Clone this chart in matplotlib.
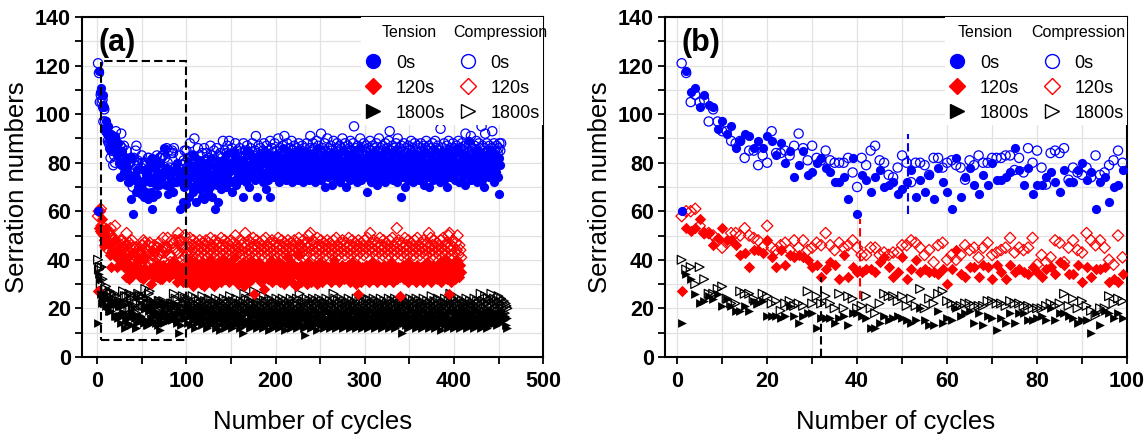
import numpy as np
import matplotlib
matplotlib.use('Agg')
import matplotlib.pyplot as plt
from matplotlib.patches import Rectangle
from matplotlib.lines import Line2D

plt.rcParams['font.family'] = ['Liberation Sans', 'DejaVu Sans']

# ---- first 100 cycles (panel b, also start of panel a) ----
t0_b = [60, 118, 109, 111, 103, 108, 104, 103, 94, 97,
        92, 95, 86, 89, 92, 91, 86, 89, 86, 91,
        89, 83, 88, 80, 85, 74, 79, 85, 75, 76,
        80, 82, 78, 76, 72, 72, 74, 65, 82, 59,
        75, 73, 68, 74, 77, 70, 71, 72, 67, 69,
        72, 77, 66, 73, 68, 75, 65, 78, 72, 68,
        61, 82, 66, 74, 78, 71, 67, 75, 71, 80,
        73, 73, 74, 76, 86, 77, 71, 78, 67, 71,
        71, 74, 76, 72, 68, 77, 72, 72, 77, 80,
        73, 76, 61, 72, 74, 64, 70, 71, 77]
c0_b = [121, 117, 105, 108, 105, 106, 97, 102, 97, 93,
        93, 89, 88, 89, 82, 85, 85, 79, 83, 80,
        93, 84, 84, 85, 83, 87, 92, 86, 81, 87,
        82, 81, 85, 81, 80, 80, 80, 82, 76, 70,
        82, 79, 85, 87, 81, 80, 75, 74, 78, 83,
        80, 72, 80, 80, 79, 75, 82, 82, 78, 80,
        81, 79, 78, 73, 81, 79, 83, 80, 80, 82,
        82, 82, 83, 83, 77, 82, 76, 86, 80, 85,
        78, 71, 84, 85, 84, 86, 73, 78, 76, 75,
        78, 74, 83, 75, 76, 79, 81, 85, 80]
t120_b = [27, 53, 52, 53, 57, 51, 51, 46, 49, 53,
          48, 48, 46, 42, 43, 37, 44, 44, 43, 48,
          41, 37, 44, 38, 42, 41, 42, 41, 40, 37,
          38, 33, 36, 39, 38, 32, 42, 33, 37, 35,
          35, 36, 36, 35, 39, 41, 37, 33, 35, 41,
          32, 36, 40, 35, 36, 35, 35, 34, 36, 30,
          36, 44, 34, 33, 37, 37, 33, 38, 37, 32,
          38, 35, 32, 38, 35, 36, 35, 34, 37, 35,
          33, 36, 37, 34, 39, 38, 34, 34, 38, 31,
          37, 33, 36, 36, 37, 31, 32, 31, 34]
c120_b = [58, 60, 60, 61, 54, 51, 51, 50, 48, 45,
          47, 51, 51, 50, 53, 50, 49, 48, 45, 54,
          45, 44, 46, 47, 44, 48, 45, 48, 44, 45,
          47, 46, 51, 46, 44, 47, 45, 46, 48, 45,
          42, 42, 45, 45, 42, 43, 42, 43, 43, 46,
          46, 48, 47, 45, 42, 44, 39, 46, 47, 40,
          42, 40, 42, 46, 44, 45, 41, 45, 47, 42,
          43, 44, 45, 49, 43, 45, 44, 45, 49, 38,
          42, 39, 41, 48, 47, 39, 45, 48, 44, 43,
          51, 48, 46, 48, 45, 40, 38, 50, 41]
t1800_b = [14, 34, 32, 26, 22, 23, 25, 24, 26, 21,
           24, 21, 19, 19, 21, 19, 23, 22, 23, 17,
           17, 17, 16, 17, 21, 17, 14, 17, 18, 18,
           12, 16, 16, 16, 14, 16, 17, 13, 18, 18,
           17, 16, 12, 12, 14, 17, 15, 16, 17, 16,
           15, 14, 15, 20, 15, 13, 13, 19, 14, 16,
           15, 20, 17, 18, 19, 14, 18, 13, 17, 16,
           11, 16, 14, 18, 14, 18, 18, 15, 15, 16,
           17, 15, 20, 15, 18, 18, 17, 16, 14, 15,
           15, 10, 18, 13, 19, 18, 16, 18, 16]
c1800_b = [40, 36, 37, 30, 37, 32, 26, 26, 28, 29,
           24, 22, 22, 27, 26, 26, 24, 22, 26, 25,
           22, 23, 19, 22, 23, 21, 22, 21, 27, 22,
           25, 22, 25, 22, 20, 26, 20, 25, 24, 20,
           21, 25, 20, 18, 22, 26, 25, 25, 23, 25,
           21, 24, 21, 28, 20, 24, 22, 26, 27, 23,
           22, 21, 21, 22, 22, 21, 21, 21, 23, 23,
           22, 22, 21, 23, 22, 22, 21, 21, 20, 20,
           20, 21, 22, 21, 22, 26, 21, 24, 20, 23,
           21, 19, 17, 20, 20, 25, 22, 24, 23]

# ---- cycles 100 onward (panel a only) ----
t0_a = [63, 72, 80, 66, 74, 78, 70, 83, 68, 75, 79, 64, 72, 77, 81, 69, 74, 66, 78, 71,
        65, 76, 80, 73, 68, 79, 74, 70, 82, 66, 75, 72, 61, 78, 71, 80, 64, 73, 77, 69,
        75, 81, 72, 78, 70, 83, 74, 79, 76, 72, 80, 68, 77, 84, 73, 79, 71, 82, 75, 78,
        73, 80, 76, 66, 81, 74, 78, 72, 85, 77, 70, 79, 83, 75, 74, 81, 77, 73, 80, 66,
        78, 82, 74, 79, 76, 83, 72, 80, 75, 69, 84, 77, 73, 81, 66, 79, 76, 82, 74, 78,
        80, 75, 83, 77, 72, 81, 78, 74, 86, 79, 76, 82, 73, 80, 77, 84, 75, 79, 72, 81,
        78, 74, 83, 76, 80, 73, 85, 77, 79, 75, 82, 72, 80, 78, 74, 84, 76, 81, 73, 79,
        77, 83, 75, 80, 72, 78, 82, 74, 86, 76, 79, 73, 81, 77, 75, 83, 70, 80, 78, 74,
        82, 76, 79, 71, 84, 77, 80, 74, 78, 83, 75, 79, 72, 81, 77, 85, 74, 80, 76, 70,
        79, 83, 75, 78, 73, 81, 77, 84, 74, 80, 76, 72, 82, 78, 75, 86, 73, 79, 77, 81,
        74, 80, 68, 78, 83, 75, 79, 72, 81, 77, 84, 74, 80, 76, 71, 82, 78, 75, 83, 73,
        79, 76, 81, 72, 85, 77, 80, 74, 78, 82, 75, 79, 73, 84, 76, 80, 72, 78, 83, 75,
        79, 66, 81, 74, 77, 70, 82, 76, 80, 73, 78, 84, 75, 79, 72, 81, 77, 74, 83, 76,
        80, 73, 78, 82, 75, 79, 71, 84, 77, 80, 74, 78, 70, 83, 76, 81, 73, 79, 77, 85,
        74, 80, 76, 82, 72, 78, 84, 75, 79, 73, 81, 77, 70, 85, 76, 80, 74, 83, 78, 75,
        81, 73, 79, 86, 76, 80, 72, 84, 77, 81, 74, 79, 71, 83, 76, 80, 75, 89, 78, 73,
        82, 76, 80, 74, 85, 78, 72, 81, 77, 84, 75, 79, 73, 82, 70, 80, 76, 83, 78, 74,
        81, 77, 85, 75, 79, 72, 83, 76, 80, 74, 67, 82, 79]
c0_a = [85, 78, 82, 76, 88, 80, 74, 83, 79, 90, 77, 81, 75, 86, 79, 83, 72, 80, 84, 78,
        86, 81, 77, 84, 79, 82, 75, 87, 80, 83, 78, 85, 81, 76, 86, 80, 83, 79, 84, 77,
        82, 89, 80, 85, 78, 84, 87, 81, 89, 83, 79, 86, 82, 80, 84, 88, 81, 85, 79, 83,
        86, 80, 84, 82, 88, 79, 85, 83, 87, 81, 84, 80, 86, 82, 88, 83, 79, 85, 91, 82,
        84, 87, 81, 86, 83, 80, 85, 88, 82, 84, 87, 81, 85, 83, 89, 80, 86, 82, 84, 88,
        81, 85, 83, 90, 82, 86, 80, 84, 87, 83, 91, 85, 82, 88, 84, 81, 86, 83, 89, 85,
        82, 87, 84, 80, 86, 83, 88, 85, 81, 84, 87, 82, 86, 83, 80, 88, 84, 82, 86, 91,
        83, 85, 88, 81, 86, 84, 89, 82, 87, 85, 83, 92, 84, 86, 81, 88, 85, 83, 90, 84,
        86, 82, 87, 85, 83, 89, 84, 81, 86, 88, 83, 85, 87, 82, 86, 90, 84, 83, 88, 85,
        82, 87, 84, 86, 89, 83, 85, 88, 95, 84, 86, 82, 87, 85, 83, 90, 84, 86, 81, 88,
        85, 83, 87, 84, 86, 82, 89, 85, 83, 87, 84, 86, 81, 88, 85, 83, 90, 84, 86, 82,
        87, 85, 83, 88, 84, 86, 82, 89, 93, 85, 83, 87, 84, 86, 81, 88, 85, 90, 83, 86,
        84, 87, 82, 85, 88, 83, 86, 84, 81, 87, 85, 83, 89, 84, 86, 82, 88, 85, 83, 87,
        84, 86, 82, 88, 85, 83, 87, 84, 86, 89, 83, 85, 87, 82, 86, 84, 88, 85, 83, 89,
        86, 84, 87, 82, 85, 94, 83, 86, 84, 88, 85, 83, 87, 84, 89, 82, 86, 85, 83, 88,
        84, 86, 82, 87, 85, 89, 83, 86, 84, 88, 85, 83, 87, 92, 86, 84, 82, 88, 85, 91,
        83, 86, 84, 87, 82, 89, 85, 83, 88, 86, 84, 95, 87, 83, 86, 92, 84, 88, 85, 83,
        87, 84, 86, 93, 82, 88, 85, 83, 87, 84, 86, 88, 85, 88]
t120_a = [35, 31, 38, 34, 40, 32, 36, 29, 37, 33, 39, 35, 31, 38, 34, 36, 30, 37, 33, 39,
          29, 35, 32, 38, 34, 36, 31, 40, 33, 37, 35, 29, 38, 34, 32, 36, 39, 33, 35, 31,
          37, 34, 40, 32, 36, 38, 33, 35, 31, 39, 34, 36, 32, 37, 35, 41, 33, 36, 30, 38,
          34, 37, 32, 35, 39, 29, 36, 33, 38, 34, 31, 37, 35, 40, 32, 36, 26, 34, 38, 33,
          36, 32, 39, 35, 31, 37, 34, 28, 36, 33, 38, 35, 32, 37, 34, 40, 31, 36, 33, 38,
          35, 32, 37, 34, 39, 31, 36, 33, 38, 35, 30, 37, 34, 41, 32, 36, 33, 39, 35, 31,
          38, 34, 36, 29, 37, 42, 33, 35, 31, 38, 34, 36, 32, 37, 35, 30, 39, 33, 36, 34,
          31, 37, 35, 32, 38, 34, 36, 30, 37, 33, 39, 35, 31, 36, 34, 38, 32, 35, 33, 37,
          34, 36, 31, 38, 33, 35, 40, 32, 36, 34, 37, 31, 35, 33, 38, 34, 36, 32, 37, 35,
          33, 38, 34, 31, 36, 35, 39, 32, 37, 34, 30, 36, 26, 38, 33, 35, 31, 37, 34, 36,
          32, 38, 35, 33, 37, 31, 36, 34, 39, 32, 35, 37, 33, 36, 31, 38, 34, 35, 32, 37,
          36, 33, 38, 31, 35, 34, 37, 32, 36, 39, 33, 35, 31, 38, 34, 36, 32, 37, 35, 33,
          25, 36, 34, 38, 32, 37, 35, 33, 39, 31, 36, 34, 38, 32, 35, 37, 33, 36, 31, 38,
          34, 36, 32, 37, 35, 31, 38, 33, 36, 34, 39, 32, 35, 37, 31, 36, 34, 38, 33, 35,
          37, 32, 36, 34, 39, 31, 35, 38, 33, 36, 34, 40, 32, 37, 26, 35, 38, 31, 33, 36,
          39, 32, 37, 34, 40, 36, 33, 38, 35]
c120_a = [45, 42, 47, 44, 49, 43, 46, 41, 48, 45, 43, 47, 44, 46, 42, 48, 45, 43, 47, 44,
          46, 42, 48, 45, 43, 47, 44, 49, 42, 46, 45, 43, 48, 44, 46, 42, 47, 45, 43, 49,
          44, 46, 42, 48, 45, 43, 47, 44, 46, 42, 48, 45, 43, 47, 44, 50, 42, 46, 45, 43,
          48, 44, 46, 42, 47, 45, 51, 43, 46, 44, 48, 42, 47, 45, 43, 49, 44, 46, 42, 48,
          45, 43, 47, 44, 46, 42, 48, 45, 43, 49, 44, 46, 42, 47, 45, 43, 48, 44, 46, 42,
          47, 45, 43, 49, 44, 46, 42, 48, 45, 43, 47, 44, 46, 42, 48, 45, 43, 47, 44, 46,
          42, 48, 45, 43, 47, 44, 49, 42, 46, 45, 43, 48, 44, 46, 42, 47, 45, 50, 43, 51,
          46, 44, 48, 42, 47, 45, 43, 49, 44, 46, 42, 48, 45, 43, 47, 44, 46, 42, 48, 45,
          43, 47, 44, 46, 42, 48, 45, 43, 49, 44, 46, 42, 47, 45, 43, 48, 44, 46, 42, 47,
          45, 43, 49, 44, 46, 42, 48, 45, 43, 47, 44, 46, 42, 48, 45, 43, 47, 44, 46, 42,
          48, 45, 43, 49, 44, 46, 51, 47, 45, 43, 48, 44, 46, 42, 47, 45, 43, 49, 44, 46,
          42, 48, 45, 43, 47, 44, 46, 42, 48, 45, 43, 49, 44, 46, 42, 47, 53, 43, 48, 44,
          46, 42, 47, 45, 43, 49, 44, 46, 42, 48, 45, 43, 47, 44, 46, 42, 48, 45, 43, 49,
          44, 46, 42, 47, 45, 43, 48, 44, 46, 42, 47, 45, 51, 43, 49, 44, 46, 42, 48, 45,
          43, 47, 44, 46, 42, 48, 45, 43, 49, 44, 46, 42, 47, 45, 50, 51, 44, 46, 42, 48,
          45, 43, 47, 44, 50, 42, 46, 44, 41]
t1800_a = [16, 19, 14, 21, 17, 13, 18, 15, 20, 16, 12, 18, 14, 19, 17, 15, 21, 13, 16, 18,
           14, 19, 16, 12, 18, 15, 20, 13, 17, 15, 19, 14, 16, 12, 18, 15, 17, 13, 11, 16,
           19, 14, 17, 12, 18, 15, 20, 13, 16, 14, 18, 12, 17, 15, 19, 13, 16, 14, 18, 15,
           12, 17, 14, 10, 16, 19, 13, 15, 18, 14, 20, 12, 16, 15, 18, 13, 17, 14, 19, 12,
           16, 14, 18, 13, 15, 17, 12, 19, 14, 16, 13, 18, 15, 11, 17, 14, 16, 12, 18, 15,
           13, 17, 14, 19, 12, 16, 15, 18, 13, 17, 14, 11, 16, 19, 13, 15, 18, 12, 17, 14,
           16, 13, 18, 15, 12, 17, 14, 19, 13, 16, 15, 18, 12, 9, 17, 14, 16, 13, 18, 15,
           12, 17, 14, 19, 13, 16, 15, 11, 18, 14, 16, 13, 17, 15, 12, 18, 14, 16, 13, 19,
           15, 12, 17, 14, 16, 13, 18, 15, 12, 17, 14, 19, 13, 16, 15, 18, 12, 17, 14, 16,
           13, 18, 15, 12, 17, 14, 16, 13, 19, 15, 12, 17, 14, 16, 13, 18, 15, 12, 17, 14,
           16, 13, 18, 15, 12, 17, 14, 19, 13, 16, 15, 18, 12, 17, 14, 16, 13, 18, 15, 12,
           17, 14, 19, 13, 16, 15, 18, 12, 17, 14, 16, 13, 18, 15, 12, 17, 14, 19, 13, 16,
           15, 18, 10, 17, 14, 16, 13, 18, 15, 12, 17, 14, 19, 13, 16, 15, 18, 12, 17, 14,
           16, 13, 18, 15, 12, 17, 14, 19, 13, 16, 15, 18, 12, 17, 14, 16, 13, 18, 15, 12,
           17, 14, 19, 13, 16, 15, 11, 18, 14, 16, 13, 17, 15, 12, 18, 14, 16, 13, 19, 15,
           12, 17, 14, 16, 13, 18, 15, 12, 17, 14, 19, 13, 16, 15, 18, 12, 17, 14, 16, 13,
           18, 15, 12, 17, 14, 19, 13, 16, 15, 18, 12, 17, 14, 16, 13, 18, 15, 12, 17, 14,
           19, 13, 16, 15, 18, 17, 14, 16, 13, 18, 15, 17, 14, 19, 16, 18, 15, 17, 13, 16, 12]
c1800_a = [22, 19, 24, 20, 23, 18, 21, 25, 19, 22, 20, 24, 18, 21, 23, 19, 22, 20, 25, 21,
           19, 23, 20, 22, 18, 24, 21, 19, 23, 20, 22, 18, 21, 24, 19, 22, 20, 23, 21, 19,
           22, 20, 24, 18, 21, 23, 19, 22, 20, 25, 21, 19, 23, 20, 22, 18, 24, 21, 19, 22,
           20, 23, 21, 19, 22, 26, 20, 24, 18, 21, 23, 19, 22, 20, 24, 21, 27, 19, 22, 20,
           23, 21, 19, 24, 20, 22, 18, 25, 21, 23, 19, 22, 20, 24, 21, 19, 23, 20, 22, 18,
           21, 24, 19, 22, 20, 23, 21, 19, 24, 20, 22, 18, 23, 21, 19, 22, 20, 24, 21, 19,
           23, 20, 22, 18, 24, 21, 19, 26, 20, 22, 21, 23, 19, 22, 20, 24, 18, 21, 23, 19,
           22, 20, 24, 21, 19, 23, 20, 22, 18, 24, 21, 19, 23, 20, 22, 21, 19, 24, 20, 22,
           18, 23, 21, 19, 22, 26, 20, 24, 21, 19, 23, 20, 22, 18, 24, 21, 19, 23, 20, 22,
           21, 19, 24, 20, 22, 18, 23, 21, 19, 22, 20, 24, 21, 19, 23, 20, 25, 18, 21, 23,
           19, 22, 20, 24, 21, 19, 23, 20, 22, 18, 24, 21, 19, 23, 20, 22, 21, 19, 24, 20,
           22, 18, 23, 21, 19, 22, 20, 24, 21, 19, 23, 20, 22, 18, 24, 21, 19, 23, 20, 22,
           21, 19, 24, 20, 22, 18, 23, 21, 19, 22, 20, 24, 21, 19, 23, 20, 22, 18, 24, 21,
           19, 23, 20, 22, 21, 19, 24, 20, 22, 18, 23, 21, 19, 22, 20, 25, 21, 19, 23, 20,
           22, 18, 24, 21, 19, 23, 20, 22, 21, 19, 24, 20, 22, 18, 23, 21, 26, 22, 20, 24,
           21, 19, 23, 20, 22, 18, 24, 21, 19, 23, 20, 22, 21, 19, 24, 20, 22, 18, 23, 21,
           19, 22, 20, 24, 21, 19, 23, 20, 22, 18, 26, 21, 19, 23, 20, 25, 22, 18, 24, 21,
           19, 23, 26, 22, 18, 24, 21, 19, 23, 20, 25, 22, 19, 24, 21, 20, 23, 18, 22, 21, 20]

labels = ['0s', '120s', '1800s']
colors = ['#0000ff', '#ff0000', '#000000']
markers = ['o', 'D', '>']
sizes = [44, 34, 40]
leg_ms = [10, 8.5, 9.5]


def draw_panel(ax, tension, compression, xlim, xmajor, xminor, tag, heads):
    handles_t, handles_c = [], []
    for i in range(3):
        xt = np.arange(1, len(tension[i]) + 1)
        xc = np.arange(1, len(compression[i]) + 1)
        ax.scatter(xc, compression[i], s=sizes[i], marker=markers[i],
                   facecolors='none', edgecolors=colors[i], linewidths=0.9, zorder=3)
        ax.scatter(xt, tension[i], s=sizes[i], marker=markers[i],
                   color=colors[i], linewidths=0, zorder=4)
        handles_t.append(Line2D([], [], linestyle='none', marker=markers[i],
                                markersize=leg_ms[i], color=colors[i]))
        handles_c.append(Line2D([], [], linestyle='none', marker=markers[i],
                                markersize=leg_ms[i], markerfacecolor='none',
                                markeredgecolor=colors[i], markeredgewidth=1.0))
    ax.set_xlim(*xlim)
    ax.set_ylim(0, 140)
    ax.set_xticks(np.arange(0, xlim[1] + 1, xmajor))
    ax.set_xticks(np.arange(0, xlim[1] + 1, xminor), minor=True)
    ax.set_yticks(np.arange(0, 141, 20))
    ax.set_yticks(np.arange(0, 141, 10), minor=True)
    ax.grid(True, which='both', color='#e2e2e2', lw=0.9)
    ax.set_axisbelow(True)
    ax.tick_params(which='both', direction='out', length=5, width=1.3,
                   labelsize=15.5, top=False, right=False)
    ax.tick_params(axis='x', pad=5)
    ax.tick_params(axis='y', pad=3)
    for lab in ax.get_xticklabels() + ax.get_yticklabels():
        lab.set_fontweight('bold')
    for sp in ax.spines.values():
        sp.set_linewidth(1.5)
    ax.set_xlabel('Number of cycles', fontsize=18.5, labelpad=13)
    ax.set_ylabel('Serration numbers', fontsize=18.5, labelpad=4)
    ax.text(0.035, 0.925, tag, transform=ax.transAxes, fontsize=22,
            fontweight='bold', va='center', ha='left')
    leg = ax.legend(handles_t + handles_c, labels + labels, ncol=2,
                    loc='upper right', bbox_to_anchor=(1.0, 1.0),
                    title=' ', title_fontsize=19.5,
                    fontsize=13, frameon=True, framealpha=1, facecolor='white',
                    edgecolor='none', fancybox=False, borderpad=0.2, borderaxespad=0.0,
                    handlelength=1.0, handletextpad=0.75, columnspacing=0.75,
                    labelspacing=0.44)
    leg.set_zorder(6)
    for name, xpos in zip(['Tension', 'Compression'], heads):
        ax.text(xpos, 0.956, name, transform=ax.transAxes, fontsize=11.5,
                ha='center', va='center', zorder=7)


fig = plt.figure(figsize=(11.47, 4.4), dpi=100)
ax1 = fig.add_axes([0.0715, 0.189, 0.402, 0.772])
ax2 = fig.add_axes([0.5798, 0.189, 0.4028, 0.772])

tens_a = [t0_b + t0_a, t120_b + t120_a, t1800_b + t1800_a]
comp_a = [c0_b + c0_a, c120_b + c120_a, c1800_b + c1800_a]
draw_panel(ax1, tens_a, comp_a, (-17, 500), 100, 50, '(a)', (0.71, 0.907))
ax1.add_patch(Rectangle((4, 7), 96, 115, fill=False, ls=(0, (4, 2)),
                        lw=1.5, ec='black', zorder=5))

draw_panel(ax2, [t0_b, t120_b, t1800_b], [c0_b, c120_b, c1800_b],
           (-2.7, 100), 20, 10, '(b)', (0.693, 0.894))
ax2.plot([32, 32], [0, 33], ls=(0, (4, 2)), color='black', lw=1.5, zorder=5)
ax2.plot([40.7, 40.7], [24, 57], ls=(0, (4, 2)), color='red', lw=1.5, zorder=5)
ax2.plot([51.3, 51.3], [59, 92], ls=(0, (4, 2)), color='blue', lw=1.5, zorder=5)

fig.savefig('out.png', dpi=100)
